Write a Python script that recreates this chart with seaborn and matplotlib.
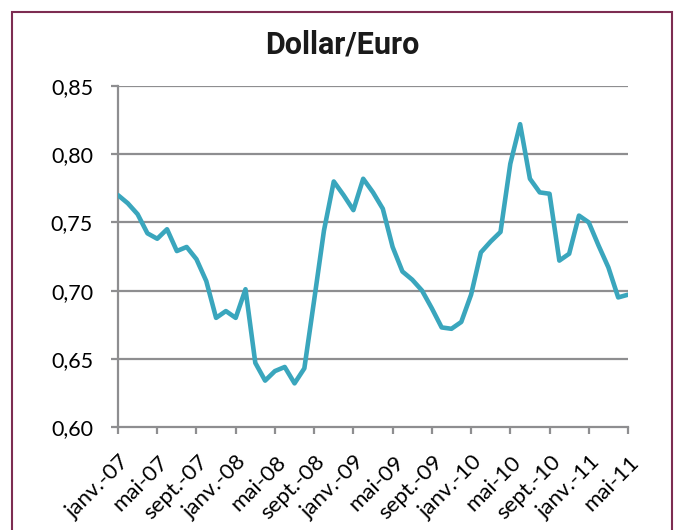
import matplotlib
matplotlib.use("Agg")
import matplotlib.pyplot as plt
import matplotlib.transforms as mtransforms
import seaborn as sns
import pandas as pd
from matplotlib.patches import Rectangle

months = pd.date_range("2007-01-01", "2011-05-01", freq="MS")
values = [
    0.770, 0.764, 0.756, 0.742, 0.738, 0.745, 0.729, 0.732, 0.723, 0.707, 0.680, 0.685,
    0.680, 0.701, 0.647, 0.634, 0.641, 0.644, 0.632, 0.643, 0.693, 0.744, 0.780, 0.770,
    0.759, 0.782, 0.772, 0.760, 0.732, 0.714, 0.708, 0.700, 0.687, 0.673, 0.672, 0.677,
    0.697, 0.728, 0.736, 0.743, 0.793, 0.822, 0.782, 0.772, 0.771, 0.722, 0.727, 0.755,
    0.750, 0.733, 0.717, 0.695, 0.697,
]
tick_labels = ["janv.-07", "mai-07", "sept.-07", "janv.-08", "mai-08", "sept.-08",
               "janv.-09", "mai-09", "sept.-09", "janv.-10", "mai-10", "sept.-10",
               "janv.-11", "mai-11"]
y_ticks = [0.60, 0.65, 0.70, 0.75, 0.80, 0.85]
title = "Dollar/Euro"

df = pd.DataFrame({"idx": range(len(months)), "value": values})

sns.set_theme(style="white")
plt.rcParams["font.family"] = ["Lato", "DejaVu Sans"]

fig = plt.figure(figsize=(6.76, 5.30), dpi=100)
ax = fig.add_axes([118 / 676, 1 - 427 / 530, (628 - 118) / 676, (427 - 86) / 530])

grid_c = "#8e8e90"
for yv in y_ticks[1:]:
    ax.axhline(yv, color=grid_c, lw=1.6, zorder=1)

sns.lineplot(data=df, x="idx", y="value", ax=ax, color="#3aa6bd", lw=3.3, zorder=3)

ax.set_xlim(0, len(months) - 1)
ax.set_ylim(0.60, 0.85)
ax.set_yticks(y_ticks)
ax.set_yticklabels([f"{v:.2f}".replace(".", ",") for v in y_ticks], fontsize=15.5)
ax.set_xticks(range(0, len(months), 4))
ax.set_xticklabels(tick_labels, rotation=45, ha="right", va="center",
                   rotation_mode="anchor", fontsize=16)
ax.set_xlabel("")
ax.set_ylabel("")

for s in ["top", "right"]:
    ax.spines[s].set_visible(False)
for s in ["left", "bottom"]:
    ax.spines[s].set_color(grid_c)
    ax.spines[s].set_linewidth(1.6)
ax.tick_params(axis="both", which="both", direction="out", length=5, width=1.6,
               color=grid_c, labelcolor="black", left=True, bottom=True)
ax.tick_params(axis="y", pad=13)
ax.tick_params(axis="x", pad=0)

offset = mtransforms.ScaledTranslation(8 / 100, -25 / 100, fig.dpi_scale_trans)
for lbl in ax.get_xticklabels():
    lbl.set_transform(lbl.get_transform() + offset)

fig.text(342 / 676, 1 - 53 / 530, title, ha="center", va="baseline", fontsize=22,
         fontweight="bold", family=["Roboto", "DejaVu Sans"], color="#1a1a1a")

fig.patches.append(Rectangle((12 / 676, -0.05), (672 - 12) / 676, 1.05 - 12 / 530,
                             transform=fig.transFigure, fill=False, edgecolor="#7d2c52",
                             lw=1.5, zorder=0))

fig.savefig("out.png", dpi=100)
